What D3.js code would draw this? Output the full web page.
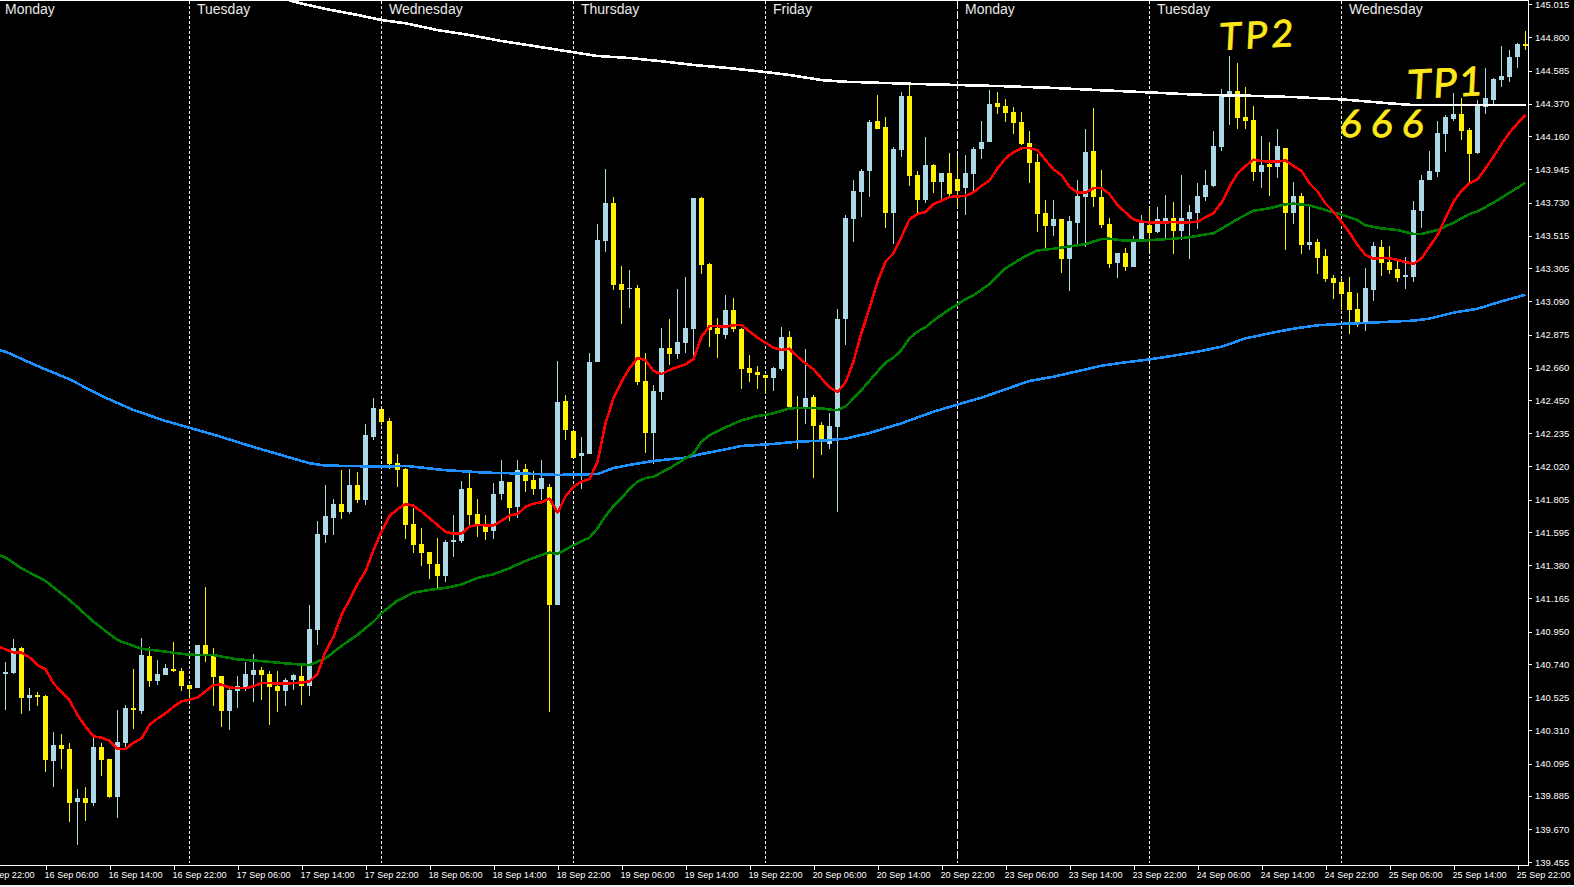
<!DOCTYPE html>
<html><head><meta charset="utf-8">
<script src="https://cdn.jsdelivr.net/npm/d3@7"></script>
<style>
html,body{margin:0;padding:0;background:#000;overflow:hidden}
svg{display:block}
text{font-family:"Liberation Sans",Arial,sans-serif}
</style></head><body>
<script>
const highs=[140.753,140.902,140.850,140.584,140.558,140.539,140.299,140.286,140.228,139.930,
139.943,140.260,140.228,140.124,140.442,140.474,140.707,140.908,140.850,140.766,
140.740,140.882,140.714,140.604,140.863,141.239,140.844,140.662,140.578,140.662,
140.753,140.805,140.720,140.695,140.695,140.649,140.675,140.727,141.123,141.667,
141.900,141.809,141.997,142.003,141.984,142.295,142.464,142.393,142.334,142.101,
142.010,141.751,141.621,141.465,141.557,141.544,141.706,141.926,141.997,141.809,
141.706,141.913,142.062,141.919,142.062,142.036,141.990,142.062,141.906,142.704,
142.483,142.256,142.211,142.755,143.591,143.948,143.766,143.319,143.293,143.196,
142.755,142.548,142.917,142.976,143.170,143.248,143.760,143.766,143.339,142.982,
143.131,143.112,142.917,142.742,142.671,142.613,142.665,142.924,142.898,142.477,
142.781,142.483,142.308,142.367,143.040,143.650,143.876,143.947,144.265,144.427,
144.284,144.090,144.446,144.498,143.934,144.155,143.980,143.921,144.051,144.025,
144.038,144.090,144.258,144.459,144.446,144.401,144.349,144.317,144.194,144.044,
143.746,143.746,143.623,143.643,143.876,144.206,144.343,143.941,143.630,143.403,
143.435,143.513,143.649,143.701,143.701,143.779,143.734,143.909,143.714,143.857,
143.941,144.194,144.466,144.680,144.634,144.479,144.356,144.161,144.122,144.207,
144.084,143.863,143.792,143.708,143.494,143.429,143.261,143.241,143.248,143.144,
143.306,143.474,143.487,143.449,143.351,143.377,143.740,143.909,144.064,144.259,
144.297,144.440,144.408,144.213,144.395,144.602,144.537,144.745,144.719,144.764,144.842];
const lows=[140.442,140.675,140.416,140.435,140.468,140.040,139.943,140.059,139.716,139.567,
139.723,139.820,140.014,139.872,139.742,140.202,140.319,140.416,140.591,140.604,
140.669,140.688,140.565,140.507,140.584,140.753,140.468,140.332,140.312,140.455,
140.565,140.494,140.507,140.345,140.429,140.468,140.571,140.474,140.533,140.864,
141.524,141.576,141.679,141.712,141.784,141.770,142.192,142.289,142.003,141.887,
141.550,141.459,141.375,141.291,141.226,141.271,141.434,141.524,141.641,141.563,
141.544,141.550,141.803,141.667,141.686,141.854,141.835,141.803,140.429,141.123,
142.192,142.075,141.874,142.101,142.697,143.410,143.164,142.943,143.047,142.548,
142.107,142.036,142.451,142.678,142.716,142.755,142.729,143.267,142.794,142.723,
142.846,142.891,142.522,142.567,142.522,142.490,142.509,142.639,142.405,142.133,
142.295,141.945,142.094,142.133,141.725,142.807,143.474,143.636,143.766,144.206,
143.565,143.461,144.025,143.837,143.649,143.727,143.792,143.740,143.759,143.701,
143.649,143.805,144.012,144.122,144.304,144.252,144.174,144.103,143.857,143.539,
143.429,143.513,143.273,143.157,143.455,143.442,143.701,143.565,143.306,143.241,
143.286,143.312,143.487,143.416,143.533,143.487,143.397,143.487,143.364,143.559,
143.740,143.831,144.064,144.233,144.207,144.207,143.870,143.824,143.773,143.889,
143.423,143.591,143.397,143.423,143.267,143.215,143.105,143.034,142.878,142.924,
142.898,143.092,143.254,143.267,143.215,143.170,143.215,143.565,143.876,143.896,
144.058,144.259,144.135,143.863,144.045,144.304,144.369,144.479,144.511,144.602,144.719];
const opens=[140.675,140.682,140.844,140.520,140.539,140.533,140.111,140.215,140.189,139.846,
139.872,139.839,140.202,140.124,139.878,140.228,140.455,140.435,140.792,140.630,
140.669,140.707,140.695,140.604,140.584,140.863,140.805,140.662,140.435,140.565,
140.591,140.669,140.701,140.675,140.597,140.565,140.636,140.662,140.598,140.961,
141.576,141.686,141.777,141.725,141.900,141.803,142.211,142.393,142.315,142.043,
142.003,141.647,141.518,141.465,141.388,141.310,141.531,141.537,141.881,141.712,
141.647,141.602,141.841,141.919,141.757,142.003,141.932,141.874,141.887,141.123,
142.444,142.250,142.088,142.101,142.697,143.481,143.727,143.202,143.170,143.177,
142.574,142.237,142.503,142.788,142.749,142.820,142.911,143.760,143.332,142.917,
142.872,143.034,142.911,142.658,142.632,142.613,142.593,142.652,142.859,142.405,
142.392,142.470,142.289,142.166,142.276,142.976,143.623,143.798,143.934,144.258,
144.219,143.662,144.070,144.420,143.908,143.746,143.973,143.863,143.921,143.882,
143.824,143.915,144.077,144.122,144.375,144.356,144.317,144.252,144.116,143.993,
143.662,143.578,143.623,143.364,143.597,143.766,144.064,143.766,143.591,143.338,
143.403,143.312,143.487,143.585,143.539,143.611,143.630,143.546,143.623,143.662,
143.766,143.837,144.090,144.421,144.453,144.284,144.265,143.928,143.980,143.960,
144.084,143.662,143.773,143.455,143.474,143.384,143.241,143.215,143.150,143.040,
142.943,143.163,143.442,143.345,143.299,143.248,143.248,143.675,143.876,143.928,
144.174,144.271,144.304,144.200,144.051,144.349,144.395,144.524,144.544,144.673,144.757];
const closes=[140.688,140.844,140.520,140.539,140.526,140.118,140.215,140.189,139.839,139.872,
139.839,140.202,140.118,139.878,140.234,140.455,140.442,140.798,140.630,140.675,
140.714,140.695,140.597,140.578,140.863,140.805,140.656,140.435,140.571,140.597,
140.675,140.701,140.669,140.591,140.565,140.636,140.669,140.597,140.967,141.583,
141.699,141.777,141.725,141.900,141.803,142.224,142.399,142.308,142.036,141.997,
141.641,141.511,141.459,141.388,141.310,141.531,141.544,141.874,141.706,141.634,
141.595,141.841,141.926,141.751,141.997,141.926,141.874,141.945,141.123,142.438,
142.256,142.075,142.107,142.697,143.488,143.727,143.196,143.164,143.177,142.567,
142.237,142.509,142.788,142.749,142.827,142.917,143.760,143.326,142.904,142.878,
143.034,142.911,142.652,142.626,142.613,142.593,142.658,142.859,142.405,142.392,
142.464,142.282,142.179,142.282,142.976,143.630,143.805,143.934,144.252,144.206,
143.662,144.077,144.420,143.902,143.746,143.973,143.863,143.921,143.785,143.805,
143.921,144.077,144.122,144.368,144.349,144.310,144.245,144.109,143.986,143.656,
143.578,143.623,143.364,143.610,143.772,144.057,143.766,143.584,143.332,143.403,
143.312,143.474,143.598,143.533,143.623,143.630,143.546,143.630,143.669,143.773,
143.844,144.097,144.421,144.453,144.278,144.259,143.928,143.973,143.960,144.097,
143.662,143.773,143.455,143.474,143.371,143.235,143.209,143.137,143.034,142.943,
143.176,143.449,143.338,143.293,143.241,143.261,143.682,143.876,143.935,144.181,
144.284,144.304,144.194,144.045,144.356,144.408,144.531,144.550,144.673,144.757,144.745];

// fast moving average: one value per bar, from bar -1 (just off the left edge)
const redValues=[140.857,140.835,140.815,140.813,140.783,140.733,140.707,140.615,140.558,140.507,140.409,
140.334,140.271,140.263,140.243,140.191,140.189,140.230,140.258,140.345,140.386,
140.420,140.463,140.498,140.509,140.522,140.563,140.604,140.606,140.587,140.584,
140.584,140.595,140.617,140.617,140.612,140.612,140.617,140.619,140.628,140.675,
140.820,140.917,141.057,141.155,141.259,141.339,141.479,141.598,141.700,141.743,
141.777,141.765,141.728,141.685,141.641,141.596,141.585,141.585,141.631,141.641,
141.639,141.637,141.669,141.702,141.713,141.758,141.780,141.788,141.812,141.721,
141.825,141.889,141.922,141.939,142.051,142.300,142.462,142.570,142.656,142.723,
142.710,142.639,142.619,142.645,142.665,142.682,142.716,142.861,142.930,142.930,
142.926,142.935,142.937,142.894,142.855,142.822,142.790,142.775,142.783,142.732,
142.688,142.650,142.591,142.533,142.503,142.565,142.700,142.888,143.045,143.218,
143.347,143.401,143.509,143.621,143.656,143.669,143.720,143.742,143.766,143.770,
143.774,143.796,143.839,143.872,143.952,144.016,144.057,144.083,144.083,144.070,
144.006,143.945,143.908,143.833,143.794,143.794,143.824,143.824,143.785,143.714,
143.666,143.621,143.606,143.602,143.600,143.602,143.604,143.600,143.602,143.606,
143.634,143.662,143.729,143.833,143.919,143.967,144.008,143.999,143.997,143.995,
144.004,143.967,143.935,143.855,143.801,143.725,143.671,143.606,143.535,143.455,
143.390,143.366,143.371,143.369,143.358,143.345,143.332,143.369,143.444,143.520,
143.628,143.736,143.807,143.855,143.881,143.952,144.027,144.109,144.183,144.243,144.300];

const greenBars=[-1,0,2,5,8,11,14,17,20,23,26,29,32,35,38,40,42,44,46,47,49,51,53,55,57,59,61,63,65,67,68,69,71,72,73,74,75,76,77,78,79,80,81,83,85,86,87,88,90,92,94,96,98,100,102,103,104,105,106,107,108,109,110,111,112,113,114,115,116,117,118,119,120,121,123,125,127,129,131,133,135,137,138,140,142,143,146,148,150,151,153,154,156,158,160,161,163,165,167,169,170,172,174,176,177,179,181,183,184,186,188,190];
const greenValues=[141.450,141.430,141.360,141.278,141.155,141.014,140.895,140.839,140.820,140.800,140.798,140.770,140.759,140.744,140.733,140.777,140.857,140.929,141.015,141.069,141.151,141.203,141.220,141.233,141.255,141.298,141.322,141.361,141.408,141.447,141.462,141.453,141.509,141.535,141.559,141.619,141.699,141.764,141.814,141.874,141.922,141.945,141.954,142.008,142.073,142.105,142.181,142.222,142.274,142.319,142.347,142.364,142.397,142.399,142.397,142.388,142.386,142.408,142.462,142.516,142.576,142.635,142.693,142.726,142.775,142.851,142.894,142.922,142.965,143.002,143.039,143.071,143.104,143.129,143.202,143.304,143.368,143.420,143.431,143.446,143.461,143.494,143.496,143.483,143.483,143.487,143.496,143.505,143.524,143.531,143.591,143.623,143.677,143.693,143.719,143.723,143.712,143.682,143.652,143.617,143.582,143.563,143.552,143.526,143.526,143.552,143.600,143.656,143.673,143.729,143.794,143.859];

const blueBars=[-1,0,4,8,12,16,20,23,27,31,35,38,40,47,50,55,60,65,69,71,74,76,78,81,85,87,90,92,96,99,102,105,108,112,116,119,122,125,128,131,134,137,140,143,146,149,152,155,158,161,164,167,170,173,176,178,181,184,187,190];
const blueValues=[142.775,142.764,142.671,142.585,142.477,142.386,142.315,142.271,142.211,142.146,142.086,142.041,142.026,142.019,142.024,141.996,141.980,141.974,141.965,141.968,141.971,142.010,142.030,142.056,142.077,142.101,142.131,142.153,142.166,142.181,142.187,142.200,142.237,142.300,142.375,142.421,142.466,142.520,142.574,142.602,142.637,142.673,142.695,142.714,142.738,142.764,142.796,142.850,142.883,142.913,142.935,142.944,142.950,142.958,142.965,142.978,143.017,143.042,143.090,143.133];

const whiteBars=[35,36,40,44,47,50,54,58,62,66,71,74,78,82,86,90,95,98,102,105,107,113,119,125,131,137,143,149,155,161,167,173,176,190];
const whiteValues=[145.049,145.032,144.985,144.946,144.913,144.892,144.848,144.816,144.777,144.745,144.704,144.680,144.667,144.646,144.622,144.604,144.576,144.557,144.524,144.513,144.510,144.500,144.492,144.484,144.473,144.458,144.444,144.429,144.423,144.414,144.399,144.373,144.362,144.362];

const priceTicks=[145.015,144.800,144.585,144.370,144.160,143.945,143.730,143.515,143.305,143.090,142.875,142.660,142.450,142.235,142.020,141.805,141.595,141.380,141.165,140.950,140.740,140.525,140.310,140.095,139.885,139.670,139.455];
const timeLabels=["13 Sep 22:00","16 Sep 06:00","16 Sep 14:00","16 Sep 22:00","17 Sep 06:00","17 Sep 14:00","17 Sep 22:00","18 Sep 06:00","18 Sep 14:00","18 Sep 22:00","19 Sep 06:00","19 Sep 14:00","19 Sep 22:00","20 Sep 06:00","20 Sep 14:00","20 Sep 22:00","23 Sep 06:00","23 Sep 14:00","23 Sep 22:00","24 Sep 06:00","24 Sep 14:00","24 Sep 22:00","25 Sep 06:00","25 Sep 14:00","25 Sep 22:00"];
const dayNames=["Monday","Tuesday","Wednesday","Thursday","Friday","Monday","Tuesday","Wednesday"];
const dayBars=[-1,23,47,71,95,119,143,167];

const W=1574,H=887;
const x=d3.scaleLinear().domain([0,190]).range([5.5,1525.5]);
const y=d3.scaleLinear().domain([139.455,145.015]).range([862.3,4.3]);
const svg=d3.select("body").append("svg").attr("width",W).attr("height",H);
svg.append("rect").attr("width",W).attr("height",H).attr("fill","#000");
svg.append("rect").attr("y",885).attr("width",W).attr("height",2).attr("fill","#f0f0f0");

const plot=svg.append("g");
// day separators
plot.selectAll("line.sep").data(dayBars).join("line").attr("class","sep")
  .attr("x1",d=>x(d)).attr("x2",d=>x(d)).attr("y1",1).attr("y2",863)
  .attr("stroke","#fff").attr("stroke-width",1).attr("shape-rendering","crispEdges")
  .attr("stroke-dasharray",d=>d===119?"8,2":"3,2");
plot.selectAll("text.day").data(dayNames).join("text").attr("class","day")
  .attr("x",(d,i)=>x(dayBars[i])+7.5).attr("y",13.5)
  .attr("font-size",14).attr("fill","#e8e8e8").text(d=>d);

// candles
const bars=d3.range(highs.length);
const YEL="#fff200",BLU="#add8e6";
const col=i=>closes[i]>=opens[i]?BLU:YEL;
plot.selectAll("line.wick").data(bars).join("line").attr("class","wick")
  .attr("x1",i=>x(i)).attr("x2",i=>x(i)).attr("y1",i=>y(highs[i])).attr("y2",i=>y(lows[i]))
  .attr("stroke",col).attr("stroke-width",1).attr("shape-rendering","crispEdges");
plot.selectAll("rect.body").data(bars).join("rect").attr("class","body")
  .attr("x",i=>x(i)-2.5).attr("width",5)
  .attr("y",i=>y(Math.max(opens[i],closes[i])))
  .attr("height",i=>Math.max(1,Math.abs(y(opens[i])-y(closes[i]))))
  .attr("fill",col).attr("shape-rendering","crispEdges");

// moving averages
const maLine=d3.line().x(d=>x(d[0])).y(d=>y(d[1]));
function ma(ix,vals,color){
  plot.append("path").datum(ix.map((b,k)=>[b,vals[k]])).attr("d",maLine)
    .attr("fill","none").attr("stroke",color).attr("stroke-width",2.6)
    .attr("stroke-linejoin","round").attr("shape-rendering","crispEdges");
}
ma(whiteBars,whiteValues,"#fff");
ma(blueBars,blueValues,"#1e90ff");
ma(greenBars,greenValues,"#008000");
ma(redValues.map((_,k)=>k-1),redValues,"#f00");

// hand-written notes
const notes=[{t:"TP2",x:1219,y:50,s:37,ls:4,r:-3,sk:-6},{t:"TP1",x:1407,y:99,s:40,ls:2,r:-3,sk:-6},{t:"666",x:1339,y:137,s:38,ls:9,r:0,sk:-6}];
svg.selectAll("text.note").data(notes).join("text").attr("class","note")
  .attr("transform",d=>`translate(${d.x},${d.y}) rotate(${d.r}) skewX(${d.sk})`)
  .attr("font-size",d=>d.s).attr("letter-spacing",d=>d.ls)
  .attr("fill","#ffe81a").attr("stroke","#ffe81a").attr("stroke-width",0.8)
  .attr("style",'font-family:"Lato","Noto Sans",sans-serif').text(d=>d.t);

// axes
const axR=d3.axisRight(y).tickValues(priceTicks).tickFormat(d3.format(".3f")).tickSize(3).tickPadding(3.5);
const gR=svg.append("g").attr("transform","translate(1528.5,0)").call(axR);
const axB=d3.axisBottom(x).tickValues(timeLabels.map((_,k)=>-3+8*k)).tickFormat((_,k)=>timeLabels[k]).tickSize(4).tickPadding(2);
const gB=svg.append("g").attr("transform","translate(0,865.5)").call(axB);
[gR,gB].forEach(g=>{
  g.selectAll(".domain").remove();
  g.selectAll("line").attr("stroke","#fff").attr("shape-rendering","crispEdges");
  g.selectAll("text").attr("fill","#fff").attr("font-size",9.5).attr("font-family",'"Liberation Sans",Arial,sans-serif');
});
gB.selectAll("text").attr("text-anchor","start").attr("dx",-1.5).attr("font-size",9.1);
svg.append("line").attr("x1",1528.5).attr("x2",1528.5).attr("y1",0).attr("y2",866).attr("stroke","#fff").attr("shape-rendering","crispEdges");
svg.append("line").attr("x1",0).attr("x2",1529).attr("y1",865.5).attr("y2",865.5).attr("stroke","#fff").attr("shape-rendering","crispEdges");
svg.append("line").attr("x1",0).attr("x2",1529).attr("y1",0.5).attr("y2",0.5).attr("stroke","#fff").attr("shape-rendering","crispEdges");
</script>
</body></html>
